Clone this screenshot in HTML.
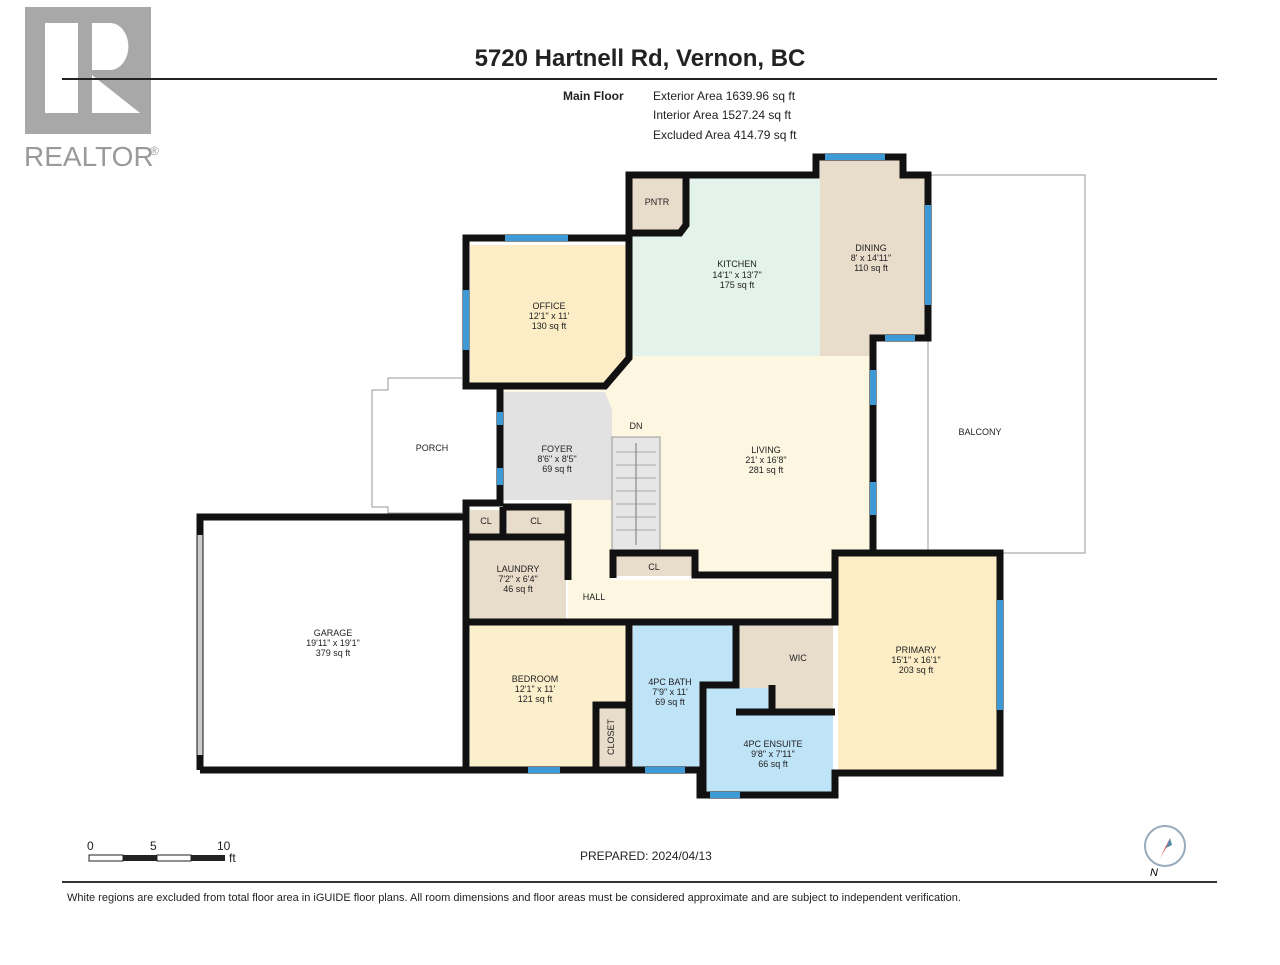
<!DOCTYPE html>
<html><head><meta charset="utf-8"><style>
body{margin:0;background:#fff;width:1280px;height:960px;overflow:hidden;font-family:"Liberation Sans",sans-serif}
svg text{font-family:"Liberation Sans",sans-serif}
</style></head><body>
<svg width="1280" height="960" viewBox="0 0 1280 960" xmlns="http://www.w3.org/2000/svg">
<!-- logo -->
<rect x="25" y="7" width="126" height="127" fill="#a8a8a8"/>
<rect x="45" y="23" width="33" height="90" fill="#fff"/>
<path d="M92 23 h18 a18 23 0 0 1 0 47 h-18z" fill="#fff"/>
<polygon points="92,75 92,113 140,113" fill="#fff"/>
<text x="24" y="166" font-size="28" fill="#9a9a9a">REALTOR</text>
<text x="150" y="155" font-size="12" fill="#9a9a9a">®</text>
<!-- header -->
<text x="640" y="66" font-size="24" font-weight="bold" text-anchor="middle" fill="#222">5720 Hartnell Rd, Vernon, BC</text>
<line x1="62" y1="79" x2="1217" y2="79" stroke="#222" stroke-width="2"/>
<g font-size="12" fill="#222">
<text x="563" y="100" font-weight="bold">Main Floor</text>
<text x="653" y="100">Exterior Area 1639.96 sq ft</text>
<text x="653" y="119">Interior Area 1527.24 sq ft</text>
<text x="653" y="139">Excluded Area 414.79 sq ft</text>
</g>
<!-- balcony & porch -->
<rect x="928" y="175" width="157" height="378" fill="none" stroke="#999" stroke-width="1"/>
<polyline points="462,378 388,378 388,390 372,390 372,507 388,507 388,513 462,513" fill="none" stroke="#999"/>
<!-- fills -->
<polygon points="470,245 627,245 627,355 605,383 470,383" fill="#fcedc6"/>
<rect x="632" y="178" width="188" height="178" fill="#e3f2ea"/>
<rect x="632" y="178" width="54" height="54" fill="#e8dccb"/>
<polygon points="820,160 903,160 903,178 925,178 925,336 873,336 873,356 820,356" fill="#e8dccb"/>
<polygon points="632,356 873,356 873,553 835,553 835,575 695,575 695,553 612,553 612,580 835,580 835,622 568,622 568,500 497,500 497,390 605,390" fill="#fdf6e1"/>
<polygon points="503,392 605,392 612,410 612,500 503,500" fill="#e2e2e2"/>
<rect x="612" y="437" width="48" height="113" fill="#e6e6e6" stroke="#999"/>
<g stroke="#aaa"><line x1="616" y1="452" x2="656" y2="452"/><line x1="616" y1="465" x2="656" y2="465"/><line x1="616" y1="478" x2="656" y2="478"/><line x1="616" y1="491" x2="656" y2="491"/><line x1="616" y1="504" x2="656" y2="504"/><line x1="616" y1="517" x2="656" y2="517"/><line x1="616" y1="530" x2="656" y2="530"/></g>
<line x1="636" y1="443" x2="636" y2="545" stroke="#777"/>
<rect x="616" y="556" width="77" height="20" fill="#e8dccb"/>
<rect x="470" y="510" width="30" height="24" fill="#e8dccb"/>
<rect x="507" y="510" width="58" height="24" fill="#e8dccb"/>
<rect x="470" y="537" width="96" height="82" fill="#e8dccb"/>
<rect x="470" y="625" width="156" height="143" fill="#fcefcc"/>
<rect x="600" y="709" width="26" height="59" fill="#e8dccb"/>
<rect x="633" y="625" width="100" height="143" fill="#bfe3f7"/>
<rect x="739" y="625" width="94" height="85" fill="#e8dccb"/>
<polygon points="706,688 772,688 772,713 833,713 833,792 706,792" fill="#bfe3f7"/>
<rect x="838" y="556" width="160" height="215" fill="#fcedc6"/>
<!-- walls -->
<g fill="none" stroke="#111" stroke-width="7" stroke-linejoin="miter">
<polyline points="629,238 466,238 466,386 605,386 629,358 629,175 816,175 816,157 903,157 903,175 928,175 928,338 873,338 873,553"/>
<polyline points="629,233 680,233 686,225 686,178"/>
<polyline points="500,386 500,503 466,503 466,622 466,770"/>
<polyline points="200,770 200,517 466,517"/>
<polyline points="200,770 700,770 700,795 835,795 835,773 1000,773 1000,553 835,553 835,575 695,575 695,553 613,553 613,578"/>
<polyline points="503,507 568,507 568,537 466,537"/>
<polyline points="503,507 503,537"/>
<polyline points="568,537 568,580"/>
<polyline points="466,622 835,622 835,553"/>
<polyline points="629,622 629,770"/>
<polyline points="596,770 596,705 629,705"/>
<polyline points="736,622 736,685 703,685 703,795"/>
<polyline points="736,712 772,712 772,685"/>
<polyline points="773,712 835,712"/>
</g>
<!-- windows -->
<g stroke="#3d9ad6" stroke-width="6">
<line x1="505" y1="238" x2="568" y2="238"/><line x1="466" y1="290" x2="466" y2="350"/>
<line x1="825" y1="157" x2="885" y2="157"/><line x1="928" y1="205" x2="928" y2="305"/>
<line x1="885" y1="338" x2="915" y2="338"/><line x1="873" y1="370" x2="873" y2="405"/>
<line x1="873" y1="482" x2="873" y2="515"/><line x1="500" y1="412" x2="500" y2="425"/>
<line x1="500" y1="468" x2="500" y2="485"/><line x1="1000" y1="600" x2="1000" y2="710"/>
<line x1="528" y1="770" x2="560" y2="770"/><line x1="645" y1="770" x2="685" y2="770"/>
<line x1="710" y1="795" x2="740" y2="795"/>
</g>
<line x1="200" y1="535" x2="200" y2="755" stroke="#ccc" stroke-width="5"/>
<!-- labels -->
<g font-size="9" fill="#222" text-anchor="middle">
<text x="657" y="205">PNTR</text>
<text x="737" y="267">KITCHEN</text><text x="737" y="278">14'1" x 13'7"</text><text x="737" y="288">175 sq ft</text>
<text x="871" y="251">DINING</text><text x="871" y="261">8' x 14'11"</text><text x="871" y="271">110 sq ft</text>
<text x="549" y="309">OFFICE</text><text x="549" y="319">12'1" x 11'</text><text x="549" y="329">130 sq ft</text>
<text x="557" y="452">FOYER</text><text x="557" y="462">8'6" x 8'5"</text><text x="557" y="472">69 sq ft</text>
<text x="636" y="429">DN</text>
<text x="766" y="453">LIVING</text><text x="766" y="463">21' x 16'8"</text><text x="766" y="473">281 sq ft</text>
<text x="432" y="451">PORCH</text><text x="980" y="435">BALCONY</text>
<text x="486" y="524">CL</text><text x="536" y="524">CL</text><text x="654" y="570">CL</text>
<text x="518" y="572">LAUNDRY</text><text x="518" y="582">7'2" x 6'4"</text><text x="518" y="592">46 sq ft</text>
<text x="594" y="600">HALL</text>
<text x="333" y="636">GARAGE</text><text x="333" y="646">19'11" x 19'1"</text><text x="333" y="656">379 sq ft</text>
<text x="535" y="682">BEDROOM</text><text x="535" y="692">12'1" x 11'</text><text x="535" y="702">121 sq ft</text>
<text x="670" y="685">4PC BATH</text><text x="670" y="695">7'9" x 11'</text><text x="670" y="705">69 sq ft</text>
<text x="798" y="661">WIC</text>
<text x="773" y="747">4PC ENSUITE</text><text x="773" y="757">9'8" x 7'11"</text><text x="773" y="767">66 sq ft</text>
<text x="916" y="653">PRIMARY</text><text x="916" y="663">15'1" x 16'1"</text><text x="916" y="673">203 sq ft</text>
<text x="614" y="737" transform="rotate(-90 614 737)">CLOSET</text>
</g>
<!-- footer -->
<g font-size="12" fill="#222">
<text x="87" y="850">0</text><text x="150" y="850">5</text><text x="217" y="850">10</text><text x="229" y="862">ft</text>
<text x="580" y="860">PREPARED: 2024/04/13</text>
<text x="67" y="901" font-size="11">White regions are excluded from total floor area in iGUIDE floor plans. All room dimensions and floor areas must be considered approximate and are subject to independent verification.</text>
</g>
<rect x="89" y="855" width="34" height="6" fill="#fff" stroke="#222"/>
<rect x="123" y="855" width="34" height="6" fill="#222"/>
<rect x="157" y="855" width="34" height="6" fill="#fff" stroke="#222"/>
<rect x="191" y="855" width="34" height="6" fill="#222"/>
<line x1="62" y1="882" x2="1217" y2="882" stroke="#333" stroke-width="2"/>
<circle cx="1165" cy="846" r="20" fill="#fff" stroke="#9ab" stroke-width="2"/>
<polygon points="1170,838 1160,858 1166,848" fill="#d33"/>
<polygon points="1170,838 1166,848 1172,845" fill="#58a"/>
<text x="1150" y="876" font-size="11" font-style="italic">N</text>
</svg>
</body></html>
